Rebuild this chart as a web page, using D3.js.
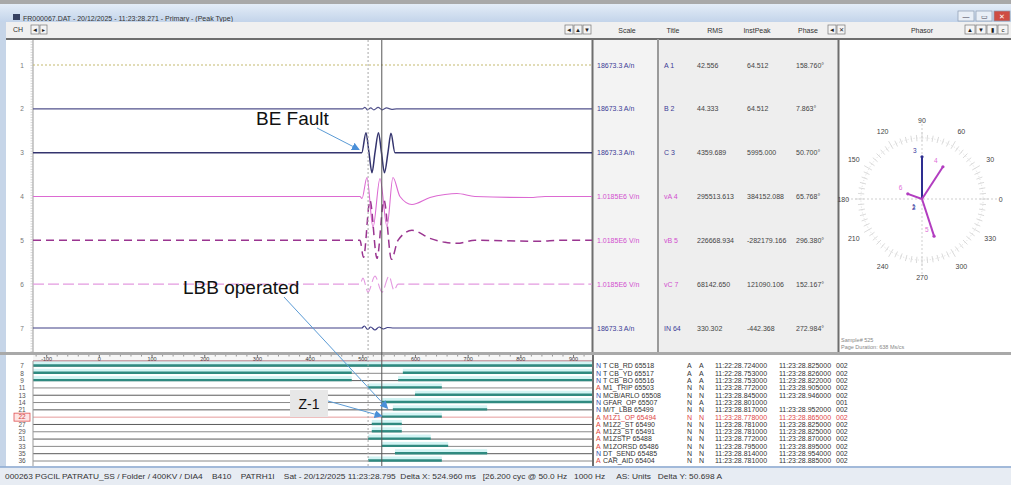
<!DOCTYPE html>
<html><head><meta charset="utf-8">
<script src="https://cdn.jsdelivr.net/npm/d3@7"></script>
<style>
html,body{margin:0;padding:0;background:#f0f0f0;overflow:hidden}
svg{display:block;font-family:"Liberation Sans",Arial,sans-serif}
</style></head><body>
<svg id="c" width="1011" height="485"></svg>
<script>
// ---------------- DATA ----------------
const windowTitle = "FR000067.DAT - 20/12/2025 - 11:23:28.271 - Primary - (Peak Type)";
const channelNumbers = ["1","2","3","4","5","6","7"];
const channelUnits = ["A","A","A","kV","kV","kV","A"];
const scaleLabels = ["18673.3 A/n","18673.3 A/n","18673.3 A/n","1.0185E6 V/n","1.0185E6 V/n","1.0185E6 V/n","18673.3 A/n"];
const titleLabels = ["A 1","B 2","C 3","vA 4","vB 5","vC 7","IN 64"];
const rmsValues = ["42.556","44.333","4359.689","295513.613","226668.934","68142.650","330.302"];
const peakValues = ["64.512","64.512","5995.000","384152.088","-282179.166","121090.106","-442.368"];
const phaseValues = ["158.760°","7.863°","50.700°","65.768°","296.380°","152.167°","272.984°"];

// waveform samples [time ms, value] (A for currents, kV for voltages)
const wave1 = [[-125,0],[936,0]];
const wave2 = [[-125,0],[500,0],[505,450],[510,-300],[516,300],[522,-300],[530,450],[538,-300],[546,300],[556,-150],[565,0],[936,0]];
const wave3 = [[-125,0],[499,0],[507,6000],[512.7,0],[518.4,-6000],[524.1,0],[530.7,6000],[536.4,0],[542.1,-6000],[548.7,0],[554.4,5800],[562,0],[936,0]];
const wave4 = [[-125,0],[495.6,0],[499.4,-40],[508.9,380],[520.3,-620],[533.6,360],[546.9,-600],[558.2,380],[571.5,0],[594.3,-160],[628.5,-20],[657,40],[679.7,60],[713.9,0],[818.3,-20],[846.8,0],[936,0]];
const wave5 = [[-125,0],[495.6,0],[502.3,-340],[514.6,800],[527.9,-360],[541.2,800],[555.4,-380],[567.7,0],[594.3,200],[628.5,40],[657,-40],[679.7,-60],[713.9,0],[837,-20],[875,0],[936,0]];
const wave6 = [[-125,0],[495.6,0],[501.3,120],[510.8,-160],[524.1,160],[537.4,-160],[550.7,160],[560.2,-120],[567.7,0],[936,0]];
const wave7 = [[-125,0],[499,0],[504,600],[510,-450],[516,300],[524,-600],[532,300],[540,-300],[548,150],[560,0],[936,0]];

const cursorTimes = [511, 537];
const timeTicks = [-100,0,100,200,300,400,500,600,700,800,900];

// digital channels
const digitalLabels = ["7","8","9","11","13","14","21","22","27","29","31","33","35","36"];
const digitalOn = [
  [[-125,936]],
  [[-125,480],[577,936]],
  [[-125,480],[568,936]],
  [[511,651]],
  [[600,936]],
  [[537,936]],
  [[558,737]],
  [[537,651]],
  [[518,575]],
  [[518,575]],
  [[511,630]],
  [[537,663]],
  [[562,737]],
  [[511,651]]
];
const highlightedDigital = "22";

// event list
const evFlags = ["N","N","N","A","N","N","N","A","A","A","A","A","N","A"];
const evNames = ["T CB_RD 65518","T CB_YD 65517","T CB_BO 65516","M1_TRIP 65503","MCB/ARLO 65508","GFAR_OP 65507","M/T_LBB 65499","M1Z1_OP 65494","M1Z2_ST 65490","M1Z3_ST 65491","M1ZSTP 65488","M1ZORSD 65486","DT_SEND 65485","CAR_AID 65404"];
const evState1 = ["A","A","A","N","N","N","N","N","N","N","N","N","N","N"];
const evState2 = ["A","A","A","N","N","A","N","N","N","N","N","N","N","N"];
const evTime1 = ["11:22:28.724000","11:22:28.753000","11:23:28.753000","11:23:28.772000","11:23:28.845000","11:23:28.801000","11:23:28.817000","11:23:28.778000","11:23:28.781000","11:23:28.781000","11:23:28.772000","11:23:28.795000","11:23:28.814000","11:23:28.781000"];
const evTime2 = ["11:23:28.825000","11:23:28.826000","11:23:28.822000","11:23:28.905000","11:23:28.946000","","11:23:28.952000","11:23:28.865000","11:23:28.825000","11:23:28.825000","11:23:28.870000","11:23:28.895000","11:23:28.954000","11:23:28.885000"];
const evCode = ["002","002","002","002","002","001","002","002","002","002","002","002","002","002"];

// phasors
const phasorLabels = ["1","2","3","4","5","6"];
const phasorAngles = [158.8, 7.9, 90, 57, 288, 160];
const phasorMags = [0.0, 0.0, 0.67, 0.61, 0.62, 0.24];
const phasorKinds = ["I","I","I","V","V","V"];
const phasorDegreeLabels = [0,30,60,90,120,150,180,210,240,270,300,330];
const phasorFooter = ["Sample# 525","Page Duration: 638 Ms/cs"];

const statusText = "000263 PGCIL PATRATU_SS / Folder / 400KV / DIA4    B410    PATRH1I    Sat - 20/12/2025 11:23:28.795  Delta X: 524.960 ms   [26.200 cyc @ 50.0 Hz   1000 Hz     AS: Units   Delta Y: 50.698 A";

// ---------------- DRAW ----------------
const svg = d3.select("#c");
const defs = svg.append("defs");
const g1 = defs.append("linearGradient").attr("id","tb").attr("x1",0).attr("y1",0).attr("x2",0).attr("y2",1);
g1.append("stop").attr("offset",0).attr("stop-color","#e3ecf7");
g1.append("stop").attr("offset",1).attr("stop-color","#c3d4ea");
defs.append("marker").attr("id","arr").attr("viewBox","0 0 10 10").attr("refX",9).attr("refY",5)
  .attr("markerWidth",8).attr("markerHeight",8).attr("orient","auto")
  .append("path").attr("d","M0,0L10,5L0,10z").attr("fill","#4a8fd8");
defs.append("clipPath").attr("id","anaClip").append("rect").attr("x",33).attr("y",40).attr("width",559).attr("height",312);
defs.append("clipPath").attr("id","digClip").append("rect").attr("x",33).attr("y",361).attr("width",559).attr("height",105);

// chrome
svg.append("rect").attr("width",1011).attr("height",485).attr("fill","#f0f0f0");
svg.append("rect").attr("width",1011).attr("height",4).attr("fill","#a8a8a8");
svg.append("rect").attr("y",4).attr("width",1011).attr("height",18).attr("fill","url(#tb)");
svg.append("rect").attr("x",13).attr("y",14).attr("width",7).attr("height",6).attr("fill","#354060");
svg.append("text").attr("x",23).attr("y",20.5).attr("font-size",7).attr("fill","#333").text(windowTitle);
[[958,"#e9eff7","—"],[976,"#e9eff7","▭"],[994,"#cf4d43","✕"]].forEach(b=>{
  svg.append("rect").attr("x",b[0]).attr("y",11).attr("width",16).attr("height",10).attr("fill",b[1]).attr("stroke","#8a9ab0").attr("stroke-width",0.7);
  svg.append("text").attr("x",b[0]+8).attr("y",19).attr("text-anchor","middle").attr("font-size",7).attr("fill",b[2]==="✕"?"#fff":"#445").text(b[2]);
});
// toolbar row
svg.append("rect").attr("y",22).attr("width",1011).attr("height",16).attr("fill","#f0f0f0");
svg.append("rect").attr("x",0).attr("y",22).attr("width",6).attr("height",446).attr("fill","#c6d5e8");
function btn(x,y,w,h,glyph){
  svg.append("rect").attr("x",x).attr("y",y).attr("width",w).attr("height",h).attr("fill","#f4f4f4").attr("stroke","#777").attr("stroke-width",0.7);
  svg.append("text").attr("x",x+w/2).attr("y",y+h-2).attr("text-anchor","middle").attr("font-size",6).attr("fill","#222").text(glyph);
}
svg.append("text").attr("x",13).attr("y",32).attr("font-size",7).attr("fill","#333").text("CH");
btn(31,25,8,9,"◄");btn(40,25,7,9,"▸");
btn(565,25,8,9,"◄");btn(574,25,8,9,"▲");btn(583,25,8,9,"▼");
btn(828,25,8,9,"◄");btn(837,25,8,9,"✕");
btn(965,25,10,9,"▲");btn(976,25,10,9,"▼");btn(987,25,10,9,"▮");btn(998,25,10,9,"c");
const headers = [["Scale",627],["Title",673],["RMS",715],["InstPeak",757],["Phase",808]];
headers.forEach(h=>svg.append("text").attr("x",h[1]).attr("y",33).attr("text-anchor","middle").attr("font-size",7).attr("fill","#333").text(h[0]));
svg.append("text").attr("x",922).attr("y",33).attr("text-anchor","middle").attr("font-size",7).attr("fill","#333").text("Phasor");
svg.append("line").attr("x1",6).attr("x2",1011).attr("y1",39).attr("y2",39).attr("stroke","#6e6e6e").attr("stroke-width",2);

// panels
svg.append("rect").attr("x",6).attr("y",40).attr("width",586).attr("height",312).attr("fill","#fff");
svg.append("rect").attr("x",593).attr("y",40).attr("width",245).attr("height",312).attr("fill","#eeeeee");
svg.append("rect").attr("x",593).attr("y",40).attr("width",65).attr("height",312).attr("fill","#f3f3f3");
svg.append("rect").attr("x",839).attr("y",40).attr("width",172).attr("height",312).attr("fill","#fff");
svg.append("rect").attr("x",0).attr("y",352).attr("width",1011).attr("height",3).attr("fill","#a9a9a9");
svg.append("rect").attr("x",6).attr("y",355).attr("width",586).attr("height",111).attr("fill","#fff");
svg.append("rect").attr("x",594).attr("y",355).attr("width",417).attr("height",111).attr("fill","#fff");
[[592.5,"#6e6e6e",2],[658,"#9a9a9a",2],[838.5,"#6e6e6e",2]].forEach(v=>
  svg.append("line").attr("x1",v[0]).attr("x2",v[0]).attr("y1",39).attr("y2",352).attr("stroke",v[1]).attr("stroke-width",v[2]));
svg.append("line").attr("x1",593).attr("x2",593).attr("y1",355).attr("y2",466).attr("stroke","#6e6e6e").attr("stroke-width",2);

// scales
const x = d3.scaleLinear().domain([-125,936]).range([33,592]);
const chY = d3.scalePoint().domain(channelNumbers).range([65,328]);
const unitScale = {A: d3.scaleLinear().domain([-6000,6000]).range([20,-20]),
                   kV: d3.scaleLinear().domain([-400,400]).range([20,-20])};

// ruler
svg.append("line").attr("x1",33).attr("x2",33).attr("y1",40).attr("y2",352).attr("stroke","#999").attr("stroke-width",1);
svg.append("g").selectAll("line").data(d3.range(42,352,2.6)).join("line")
  .attr("x1",30.5).attr("x2",33).attr("y1",d=>d).attr("y2",d=>d).attr("stroke","#bbb").attr("stroke-width",0.6);
svg.append("g").selectAll("text").data(channelNumbers).join("text")
  .attr("x",22).attr("y",d=>chY(d)+2.5).attr("text-anchor","middle").attr("font-size",6.5).attr("fill","#777").text(d=>d);

// waveforms
const waves = [wave1,wave2,wave3,wave4,wave5,wave6,wave7];
const styles = [
  {c:"#c4b96e",w:1,d:"2,2"},{c:"#52528c",w:1.2,d:null},{c:"#34346e",w:1.5,d:null},
  {c:"#dc6ad2",w:1.1,d:null},{c:"#9a3590",w:1.5,d:"8,5"},{c:"#e49ae0",w:1.1,d:"11,4"},{c:"#3f3f86",w:1.2,d:null}];
const ana = svg.append("g").attr("clip-path","url(#anaClip)");
waves.forEach((w,i)=>{
  const ch = channelNumbers[i], ys = unitScale[channelUnits[i]], base = chY(ch);
  const line = d3.line().x(d=>x(d[0])).y(d=>base+ys(d[1])).curve(d3.curveMonotoneX);
  ana.append("path").datum(w).attr("d",line).attr("fill","none").attr("stroke",styles[i].c)
    .attr("stroke-width",styles[i].w).attr("stroke-dasharray",styles[i].d);
});

// time axis band
svg.append("rect").attr("x",33).attr("y",355).attr("width",559).attr("height",6).attr("fill","#f6f6f6");
const axMinor = d3.axisBottom(x).tickValues(d3.range(-120,936,20)).tickSize(1.5).tickFormat("");
const axMajor = d3.axisBottom(x).tickValues(timeTicks).tickSize(2.5).tickPadding(-0.5).tickFormat(d=>d);
const gm = svg.append("g").attr("transform","translate(0,355)").call(axMinor);
const gM = svg.append("g").attr("transform","translate(0,355)").call(axMajor);
[gm,gM].forEach(g=>{g.select(".domain").remove();g.selectAll("line").attr("stroke","#555").attr("stroke-width",0.6);});
gM.selectAll("text").attr("font-size",5.5).attr("fill","#333").attr("font-family","Liberation Sans, Arial");
svg.append("line").attr("x1",33).attr("x2",592).attr("y1",361).attr("y2",361).attr("stroke","#a0505e").attr("stroke-width",1);

// digital channels
const dY = d3.scalePoint().domain(digitalLabels).range([366,461]);
const dig = svg.append("g").attr("clip-path","url(#digClip)");
digitalLabels.forEach((lab,i)=>{
  const y = dY(lab);
  dig.append("line").attr("x1",33).attr("x2",592).attr("y1",y).attr("y2",y)
    .attr("stroke",lab===highlightedDigital?"#e59a9a":(i%2?"#8a8a8a":"#5a5a5a")).attr("stroke-width",1);
  digitalOn[i].forEach(s=>{
    dig.append("rect").attr("x",x(s[0])).attr("y",y-4.5).attr("width",x(s[1])-x(s[0])).attr("height",4).attr("fill","#d2f4f4");
    dig.append("line").attr("x1",x(s[0])).attr("x2",x(s[1])).attr("y1",y-0.5).attr("y2",y-0.5).attr("stroke","#2f8a80").attr("stroke-width",2.4);
  });
});
svg.append("line").attr("x1",33).attr("x2",33).attr("y1",361).attr("y2",466).attr("stroke","#999");
const hl = dY(highlightedDigital);
svg.append("rect").attr("x",14).attr("y",hl-4).attr("width",16).attr("height",8).attr("fill","#fde4e4").attr("stroke","#e05050").attr("stroke-width",0.8);
svg.append("g").selectAll("text").data(digitalLabels).join("text")
  .attr("x",22).attr("y",d=>dY(d)+2.3).attr("text-anchor","middle").attr("font-size",6.5)
  .attr("fill",d=>d===highlightedDigital?"#d04040":"#555").text(d=>d);

// cursors
svg.append("line").attr("x1",x(cursorTimes[0])).attr("x2",x(cursorTimes[0])).attr("y1",40).attr("y2",466)
  .attr("stroke","#a8a8a8").attr("stroke-dasharray","2,2");
svg.append("line").attr("x1",x(cursorTimes[1])).attr("x2",x(cursorTimes[1])).attr("y1",40).attr("y2",466)
  .attr("stroke","#555").attr("stroke-width",1);

// table
channelNumbers.forEach((ch,i)=>{
  const y = chY(ch)+2.5, volt = channelUnits[i]==="kV";
  const col = volt ? "#d24fcf" : "#3c3c96";
  svg.append("text").attr("x",597).attr("y",y).attr("font-size",7).attr("fill",col).text(scaleLabels[i]);
  svg.append("text").attr("x",664).attr("y",y).attr("font-size",7).attr("fill",col).text(titleLabels[i]);
  svg.append("text").attr("x",697).attr("y",y).attr("font-size",7).attr("fill","#444").text(rmsValues[i]);
  svg.append("text").attr("x",747).attr("y",y).attr("font-size",7).attr("fill","#444").text(peakValues[i]);
  svg.append("text").attr("x",796).attr("y",y).attr("font-size",7).attr("fill","#444").text(phaseValues[i]);
});

// phasor
const cx = 922, cy = 199;
const r = d3.scaleLinear().domain([0,1]).range([0,63]);
const ph = svg.append("g").attr("transform",`translate(${cx},${cy})`);
ph.append("line").attr("x1",-75).attr("x2",75).attr("stroke","#cfcfcf").attr("stroke-dasharray","2,2");
ph.append("line").attr("y1",-75).attr("y2",75).attr("stroke","#cfcfcf").attr("stroke-dasharray","2,2");
ph.append("circle").attr("r",r(0.97)).attr("fill","none").attr("stroke","#dedede").attr("stroke-dasharray","1,2");
ph.selectAll("line.tk").data(d3.range(0,360,5)).join("line").attr("class","tk")
  .attr("x1",d=>r(0.92)*Math.cos(d*Math.PI/180)).attr("y1",d=>-r(0.92)*Math.sin(d*Math.PI/180))
  .attr("x2",d=>r(d%30===0?1.06:1.02)*Math.cos(d*Math.PI/180)).attr("y2",d=>-r(d%30===0?1.06:1.02)*Math.sin(d*Math.PI/180))
  .attr("stroke","#d2d2d2").attr("stroke-width",0.8);
ph.selectAll("text.dl").data(phasorDegreeLabels).join("text").attr("class","dl")
  .attr("x",d=>r(1.25)*Math.cos(d*Math.PI/180)).attr("y",d=>-r(1.24)*Math.sin(d*Math.PI/180)+2.5)
  .attr("text-anchor","middle").attr("font-size",7).attr("fill","#444").text(d=>d);
phasorLabels.forEach((lab,i)=>{
  const a = phasorAngles[i]*Math.PI/180, m = r(phasorMags[i]);
  const tx = m*Math.cos(a), ty = -m*Math.sin(a);
  const col = phasorKinds[i]==="I" ? "#2e2e90" : "#b23dc0";
  if (m>0) {
    ph.append("line").attr("x1",0).attr("y1",0).attr("x2",tx).attr("y2",ty).attr("stroke",col).attr("stroke-width",2);
    ph.append("circle").attr("cx",tx).attr("cy",ty).attr("r",1.6).attr("fill",col);
  }
  const lx = m>0 ? tx-9 : -10, ly = m>0 ? ty-4 : 10 + (i%2);
  ph.append("text").attr("x",lx).attr("y",ly).attr("font-size",6.5)
    .attr("fill",phasorKinds[i]==="I"?"#3a3aa0":"#e070d8").text(lab);
});
phasorFooter.forEach((t,i)=>svg.append("text").attr("x",841).attr("y",342+i*7).attr("font-size",5.5).attr("fill","#888").text(t));

// event list
const eY = dY;
digitalLabels.forEach((lab,i)=>{
  const y = eY(lab)+2.4, red = lab===highlightedDigital;
  const base = red ? "#e04848" : "#333";
  const t = (xx,s,col)=>svg.append("text").attr("x",xx).attr("y",y).attr("font-size",7).attr("fill",col||base).text(s);
  t(596,evFlags[i], evFlags[i]==="A" ? "#e0463c" : "#3050b0");
  t(603,evNames[i]); t(687,evState1[i]); t(699,evState2[i]);
  t(715,evTime1[i]); t(779,evTime2[i]); t(836,evCode[i]);
});

// status bar
svg.append("rect").attr("x",0).attr("y",467).attr("width",1011).attr("height",18).attr("fill","#e7ecf3");
svg.append("line").attr("x1",0).attr("x2",1011).attr("y1",467).attr("y2",467).attr("stroke","#8aa9d2").attr("stroke-width",1.5);
svg.append("text").attr("x",5).attr("y",478.5).attr("font-size",7.2).attr("fill","#333")
  .attr("xml:space","preserve").style("white-space","pre")
  .attr("textLength",717).attr("lengthAdjust","spacingAndGlyphs").text(statusText);

// annotations
const ann = svg.append("g");
const beTip = [x(494), chY("3")-3];
ann.append("text").attr("x",256).attr("y",125).attr("font-size",19).attr("fill","#111").text("BE Fault");
ann.append("line").attr("x1",317).attr("y1",128).attr("x2",beTip[0]).attr("y2",beTip[1]).attr("stroke","#5b9bd5").attr("marker-end","url(#arr)");
const lbbTip = [x(548), dY("21")-1.5];
ann.append("text").attr("x",183).attr("y",294).attr("font-size",19).attr("fill","#111").text("LBB operated");
ann.append("line").attr("x1",284).attr("y1",297).attr("x2",lbbTip[0]).attr("y2",lbbTip[1]).attr("stroke","#5b9bd5").attr("marker-end","url(#arr)");
const zTip = [x(537), dY("22")-1];
ann.append("rect").attr("x",290).attr("y",390).attr("width",38).attr("height",27).attr("fill","#e7e7e7");
ann.append("text").attr("x",309).attr("y",409).attr("text-anchor","middle").attr("font-size",14).attr("fill","#111").text("Z-1");
ann.append("line").attr("x1",328).attr("y1",401).attr("x2",zTip[0]).attr("y2",zTip[1]).attr("stroke","#5b9bd5").attr("marker-end","url(#arr)");
</script>
</body></html>
